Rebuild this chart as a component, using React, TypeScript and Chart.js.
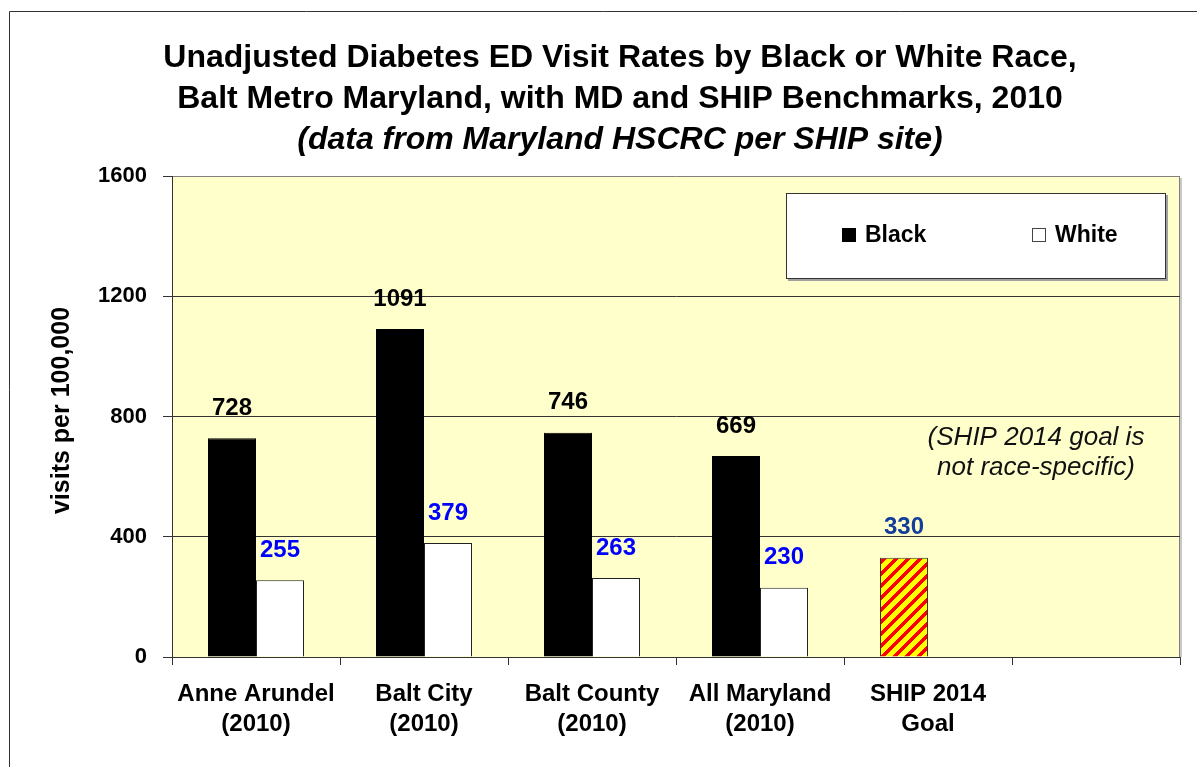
import React, { useEffect, useRef } from 'react';
import { Chart, registerables } from 'chart.js';

Chart.register(...registerables);

// ---- data ----
const categories: (string | string[])[] = [
  ['Anne Arundel', '(2010)'],
  ['Balt City', '(2010)'],
  ['Balt County', '(2010)'],
  ['All Maryland', '(2010)'],
  ['SHIP 2014', 'Goal'],
  '',
];
const blackRates = [728, 1091, 746, 669];
const whiteRates = [255, 379, 263, 230];
const shipGoal = 330;
const yTickValues = [0, 400, 800, 1200, 1600];
const seriesNames = ['Black', 'White'];
const titleLines = [
  'Unadjusted Diabetes ED Visit Rates by Black or White Race,',
  'Balt Metro Maryland, with MD and SHIP Benchmarks, 2010',
];
const subtitleText = '(data from Maryland HSCRC per SHIP site)';
const yAxisTitle = 'visits per 100,000';
const noteLines = ['(SHIP 2014 goal is', 'not race-specific)'];

const FONT = "'Liberation Sans', Arial, sans-serif";

function makeStripePattern(ctx: CanvasRenderingContext2D) {
  const size = 12;
  const c = document.createElement('canvas');
  c.width = size;
  c.height = size;
  const g = c.getContext('2d')!;
  const img = g.createImageData(size, size);
  for (let y = 0; y < size; y++) {
    for (let x = 0; x < size; x++) {
      const red = (x + y) % size < 5;
      const i = (y * size + x) * 4;
      img.data[i] = 255;
      img.data[i + 1] = red ? 0 : 255;
      img.data[i + 2] = 0;
      img.data[i + 3] = 255;
    }
  }
  g.putImageData(img, 0, 0);
  return ctx.createPattern(c, 'repeat')!;
}

const backgroundPlugin = {
  id: 'bgPlot',
  beforeDraw(chart: any) {
    const { ctx, chartArea: a, width, height } = chart;
    ctx.save();
    ctx.fillStyle = '#ffffff';
    ctx.fillRect(0, 0, width, height);
    // outer frame
    ctx.strokeStyle = '#333333';
    ctx.lineWidth = 1;
    ctx.beginPath();
    ctx.moveTo(9.5, height);
    ctx.lineTo(9.5, 11.5);
    ctx.lineTo(width, 11.5);
    ctx.stroke();
    // plot area
    ctx.fillStyle = '#ffffcc';
    ctx.fillRect(a.left, a.top, a.right - a.left, a.bottom - a.top);
    // shadow right
    ctx.fillStyle = '#c8c8c8';
    ctx.fillRect(a.right, a.top + 2, 2, a.bottom - a.top - 2);
    ctx.strokeStyle = '#808080';
    ctx.beginPath();
    ctx.moveTo(Math.round(a.right) - 0.5, a.top);
    ctx.lineTo(Math.round(a.right) - 0.5, a.bottom);
    ctx.stroke();
    ctx.restore();
  },
};

const labelsPlugin = {
  id: 'valueLabels',
  afterDatasetsDraw(chart: any) {
    const { ctx } = chart;
    ctx.save();
    ctx.font = `bold 24px ${FONT}`;
    ctx.textAlign = 'center';
    ctx.textBaseline = 'middle';
    chart.data.datasets.forEach((ds: any, di: number) => {
      const meta = chart.getDatasetMeta(di);
      meta.data.forEach((el: any, i: number) => {
        const v = ds.data[i];
        if (v === null || v === undefined) return;
        ctx.fillStyle = Array.isArray(ds.labelColors) ? ds.labelColors[i] : ds.labelColors;
        ctx.fillText(String(v), el.x, el.y - 30);
      });
    });
    ctx.restore();
  },
};

const overlayPlugin = {
  id: 'overlay',
  afterDraw(chart: any) {
    const { ctx, chartArea: a } = chart;
    ctx.save();
    // legend box
    const lx = a.right - 394;
    const ly = a.top + 17;
    const lw = 380;
    const lh = 86;
    ctx.fillStyle = '#a0a0a0';
    ctx.fillRect(lx + 2, ly + 2, lw, lh);
    ctx.fillStyle = '#ffffff';
    ctx.fillRect(lx, ly, lw, lh);
    ctx.strokeStyle = '#333333';
    ctx.lineWidth = 1;
    ctx.strokeRect(lx + 0.5, ly + 0.5, lw - 1, lh - 1);
    const swatchX = [lx + 56, lx + 246];
    ctx.font = `bold 23px ${FONT}`;
    ctx.textBaseline = 'middle';
    ctx.textAlign = 'left';
    chart.data.datasets.forEach((ds: any, di: number) => {
      const sx = swatchX[di];
      const sy = ly + 42;
      ctx.fillStyle = ds.legendColor;
      ctx.fillRect(sx, sy - 7, 14, 14);
      ctx.strokeStyle = di === 0 ? '#000000' : '#444444';
      ctx.strokeRect(sx + 0.5, sy - 6.5, 13, 13);
      ctx.fillStyle = '#000000';
      ctx.fillText(ds.label, sx + 23, sy + 1);
    });
    // note text
    ctx.font = `italic 26px ${FONT}`;
    ctx.fillStyle = '#111111';
    ctx.textAlign = 'center';
    noteLines.forEach((t, i) => {
      ctx.fillText(t, a.right - 144, a.top + 262 + i * 30);
    });
    // y axis title
    ctx.translate(62, (a.top + a.bottom) / 2 - 6);
    ctx.rotate(-Math.PI / 2);
    ctx.font = `bold 25px ${FONT}`;
    ctx.fillStyle = '#000000';
    ctx.textAlign = 'center';
    ctx.textBaseline = 'middle';
    ctx.fillText(yAxisTitle, 0, 0);
    ctx.restore();
  },
};

export default function App() {
  const ref = useRef<HTMLCanvasElement | null>(null);

  useEffect(() => {
    const canvas = ref.current!;
    const ctx = canvas.getContext('2d')!;
    const pattern = makeStripePattern(ctx);

    const blackData = [...blackRates, shipGoal, null];
    const whiteData = [...whiteRates, null, null];

    const chart = new Chart(canvas, {
      type: 'bar',
      data: {
        labels: categories as any,
        datasets: [
          {
            label: seriesNames[0],
            data: blackData,
            backgroundColor: blackData.map((_, i) => (i === blackRates.length ? pattern : '#000000')) as any,
            borderColor: blackData.map((_, i) => (i === blackRates.length ? '#333333' : '#000000')),
            borderWidth: 1,
            categoryPercentage: 96 / 168,
            barPercentage: 1,
            legendColor: '#000000',
            labelColors: blackData.map((_, i) => (i === blackRates.length ? '#153e9a' : '#000000')),
          } as any,
          {
            label: seriesNames[1],
            data: whiteData,
            backgroundColor: '#ffffff',
            borderColor: '#222222',
            borderWidth: 1,
            categoryPercentage: 96 / 168,
            barPercentage: 1,
            legendColor: '#ffffff',
            labelColors: '#0000ff',
          } as any,
        ],
      },
      options: {
        animation: false,
        responsive: false,
        devicePixelRatio: 1,
        layout: { padding: { left: 60, right: 17, top: 12, bottom: 0 } },
        plugins: {
          legend: { display: false },
          tooltip: { enabled: false },
          title: {
            display: true,
            text: titleLines,
            color: '#000000',
            font: { family: FONT, size: 32, weight: 'bold', lineHeight: 41 / 32 },
            padding: { top: 26, bottom: 0 },
          },
          subtitle: {
            display: true,
            text: subtitleText,
            color: '#000000',
            font: { family: FONT, size: 32, weight: 'bold', style: 'italic', lineHeight: 41 / 32 },
            padding: { top: 0, bottom: 15 },
          },
        },
        scales: {
          x: {
            offset: true,
            grid: {
              offset: true,
              drawOnChartArea: false,
              tickLength: 8,
              tickColor: '#333333',
            },
            border: { display: true, color: '#333333', width: 1 },
            ticks: {
              color: '#000000',
              font: { family: FONT, size: 24, weight: 'bold', lineHeight: 1.25 },
              padding: 14,
              maxRotation: 0,
              autoSkip: false,
            },
            afterFit: (s: any) => {
              s.height = 110;
            },
          },
          y: {
            min: 0,
            max: 1600,
            afterBuildTicks: (s: any) => {
              s.ticks = yTickValues.map((v) => ({ value: v }));
            },
            grid: {
              color: (c: any) => (c.tick && c.tick.value === 1600 ? '#808080' : '#333333'),
              tickColor: '#333333',
              tickLength: 9,
              lineWidth: 1,
            },
            border: { display: true, color: '#333333', width: 1 },
            ticks: {
              color: '#000000',
              font: { family: FONT, size: 22, weight: 'bold' },
              padding: 16,
              callback: (v: any) => String(v),
            },
            afterFit: (s: any) => {
              s.width = 112;
            },
          },
        },
      },
      plugins: [backgroundPlugin, labelsPlugin, overlayPlugin],
    });
    return () => chart.destroy();
  }, []);

  return (
    <div style={{ position: 'absolute', left: 0, top: 0, width: 1197, height: 767 }}>
      <canvas ref={ref} width={1197} height={767} style={{ display: 'block' }} />
    </div>
  );
}
